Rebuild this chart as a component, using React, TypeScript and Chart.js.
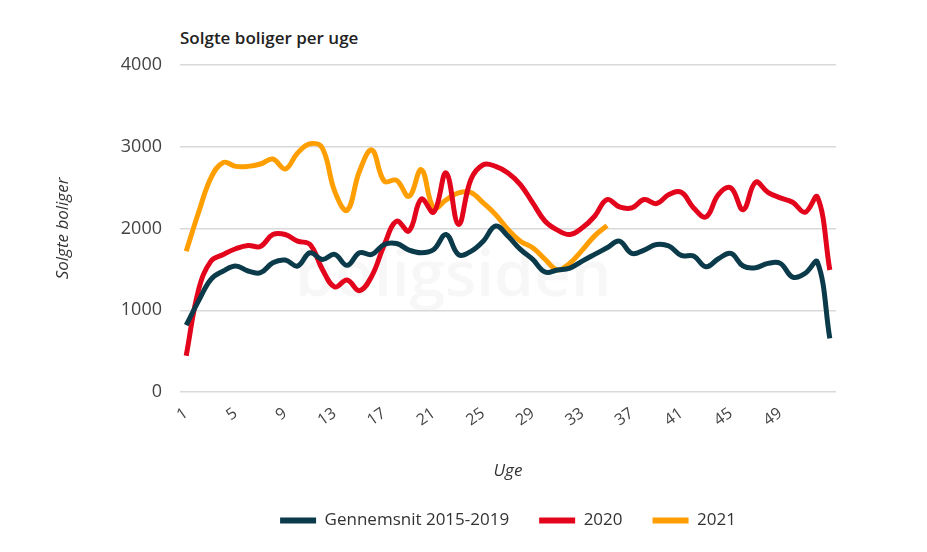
import React, { useEffect, useRef } from 'react'
import Chart, { ChartConfiguration } from 'chart.js/auto'

const weeks = [
  '1', '2', '3', '4', '5', '6', '7', '8', '9', '10', '11', '12', '13', '14', '15', '16', '17', '18',
  '19', '20', '21', '22', '23', '24', '25', '26', '27', '28', '29', '30', '31', '32', '33', '34', '35',
  '36', '37', '38', '39', '40', '41', '42', '43', '44', '45', '46', '47', '48', '49', '50', '51', '52', '53',
]

// Gennemsnit 2015-2019
const avg2015to2019 = [
  817, 1114, 1378, 1480, 1541, 1480, 1459, 1581, 1614, 1541, 1703, 1622, 1683, 1549, 1703, 1683, 1805, 1817,
  1736, 1703, 1744, 1927, 1680, 1720, 1845, 2030, 1906, 1744, 1622, 1467, 1492, 1516, 1601, 1683, 1764,
  1845, 1695, 1736, 1805, 1785, 1671, 1663, 1533, 1630, 1695, 1541, 1520, 1573, 1573, 1406, 1451, 1589, 655,
]

const sales2020 = [
  443, 1250, 1601, 1683, 1752, 1793, 1780, 1927, 1927, 1845, 1805, 1500, 1285, 1370, 1240, 1420, 1800, 2090,
  1970, 2360, 2200, 2680, 2050, 2600, 2780, 2760, 2679, 2537, 2313, 2089, 1980, 1927, 2008, 2150, 2354,
  2264, 2252, 2354, 2305, 2415, 2443, 2252, 2142, 2415, 2496, 2230, 2565, 2443, 2374, 2321, 2199, 2386, 1492,
]

const sales2021 = [
  1723, 2195, 2620, 2808, 2760, 2760, 2789, 2850, 2728, 2923, 3037, 2984, 2455, 2223, 2700, 2960, 2580, 2589,
  2394, 2720, 2250, 2350, 2435, 2440, 2313, 2170, 1988, 1845, 1764, 1622, 1492, 1577, 1736, 1910, 2036,
]

const yTicks = [0, 1000, 2000, 3000, 4000]

const DARK = '#0b3b4a'
const RED = '#e3051b'
const ORANGE = '#ff9e00'
const FONT = "'Open Sans', sans-serif"

const SalesChart = () => {
  const chartRef = useRef<HTMLCanvasElement>(null)

  useEffect(() => {
    Chart.defaults.font.family = FONT

    const line = (label: string, data: number[], color: string) => ({
      label,
      data,
      borderColor: color,
      backgroundColor: color,
      borderWidth: 5,
      pointRadius: 0,
      tension: 0.4,
      fill: false,
    })

    const chartConfig: ChartConfiguration = {
      type: 'line',
      data: {
        labels: weeks,
        datasets: [
          line('Gennemsnit 2015-2019', avg2015to2019, DARK),
          line('2020', sales2020, RED),
          line('2021', sales2021, ORANGE),
        ],
      },
      options: {
        animation: false,
        responsive: true,
        maintainAspectRatio: false,
        layout: { padding: { left: 0, right: 91, top: 65, bottom: 13 } },
        scales: {
          x: {
            offset: true,
            grid: { display: false },
            border: { display: false },
            ticks: {
              autoSkip: false,
              minRotation: 35,
              maxRotation: 35,
              padding: 4,
              color: '#444',
              font: { size: 16 },
              // every fourth week, the last week has no label
              callback: (_v, i) => (i % 4 === 0 && i < weeks.length - 1 ? weeks[i] : ''),
            },
            title: {
              display: true,
              text: 'Uge',
              color: '#333',
              font: { size: 17, style: 'italic' },
              padding: { top: 0, bottom: 1 },
            },
            afterFit: (scale) => {
              scale.height = 90
            },
          },
          y: {
            min: 0,
            max: 4000,
            afterBuildTicks: (scale) => {
              scale.ticks = yTicks.map((value) => ({ value }))
            },
            grid: { color: '#d9d9d9', lineWidth: 1.5, drawTicks: false },
            border: { display: false },
            ticks: {
              padding: 18,
              color: '#444',
              font: { size: 18 },
              callback: (v) => String(v),
            },
            title: {
              display: true,
              text: 'Solgte boliger',
              color: '#333',
              font: { size: 17, style: 'italic' },
              padding: { top: 53, bottom: 0 },
            },
            afterFit: (scale) => {
              scale.width = 180
            },
          },
        },
        plugins: {
          legend: {
            position: 'bottom',
            fullSize: false,
            labels: {
              boxWidth: 36,
              boxHeight: 6,
              padding: 30,
              color: '#333',
              font: { size: 17 },
              generateLabels: (chart) =>
                Chart.defaults.plugins.legend.labels
                  .generateLabels(chart)
                  .map((item) => ({ ...item, lineWidth: 0, fillStyle: item.strokeStyle })),
            },
          },
          tooltip: { enabled: false },
        },
      },
    }

    const chartInstance = new Chart(chartRef.current!, chartConfig)

    return () => {
      chartInstance.destroy()
    }
  }, [])

  return <canvas ref={chartRef} />
}

const App = () => (
  <div
    style={{
      position: 'absolute',
      left: 0,
      top: 0,
      width: 927,
      height: 552,
      background: '#fff',
      fontFamily: FONT,
    }}
  >
    <div
      style={{
        position: 'absolute',
        left: 295,
        top: 232,
        fontSize: 64,
        fontWeight: 600,
        color: '#f7f7f7',
        lineHeight: '80px',
      }}
    >
      boligsiden
    </div>
    <div
      style={{
        position: 'absolute',
        left: 180,
        top: 27,
        fontSize: 17,
        fontWeight: 600,
        lineHeight: '22px',
        color: '#222',
      }}
    >
      Solgte boliger per uge
    </div>
    <div style={{ position: 'absolute', left: 0, top: 0, width: 927, height: 552 }}>
      <SalesChart />
    </div>
  </div>
)

export default App
